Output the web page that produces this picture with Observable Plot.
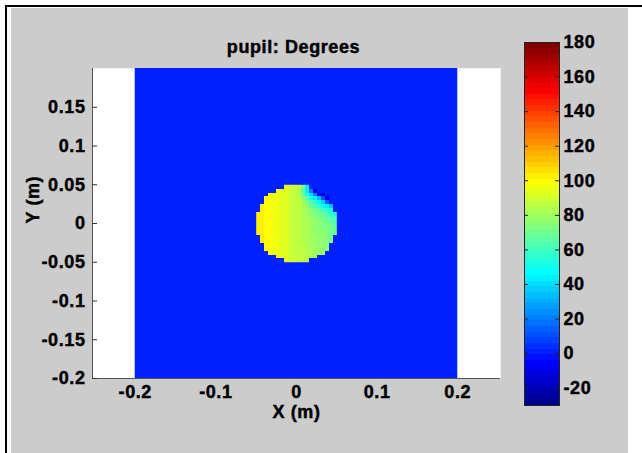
<!DOCTYPE html>
<html>
<head>
<meta charset="utf-8">
<script src="https://cdn.jsdelivr.net/npm/d3@7"></script>
<script src="https://cdn.jsdelivr.net/npm/@observablehq/plot@0.6"></script>
<style>
  html, body { margin: 0; padding: 0; background: #ffffff; }
  #wrap { position: relative; width: 642px; height: 453px; overflow: hidden; background: #ffffff; }
  #topline { position: absolute; left: 5px; top: 5px; width: 637px; height: 2px; background: #000; }
  #leftline { position: absolute; left: 5px; top: 5px; width: 2px; height: 448px; background: #000; }
  #panel { position: absolute; left: 11px; top: 8px; width: 617px; height: 445px; background: #cccccc; }
  #wrap svg { position: absolute; left: 0; top: 0; }
  #wrap svg text { stroke: #000; stroke-width: 0.45px; }
</style>
</head>
<body>
<div id="wrap">
  <div id="topline"></div>
  <div id="leftline"></div>
  <div id="panel"></div>
</div>
<script>
// ---- chart data ----
const title = "pupil: Degrees";
const xLabel = "X (m)";
const yLabel = "Y (m)";
const xDomain = [-0.253, 0.253];
const yDomain = [-0.2, 0.2];
const xTicks = [-0.2, -0.1, 0, 0.1, 0.2];
const yTicks = [-0.2, -0.15, -0.1, -0.05, 0, 0.05, 0.1, 0.15];
const colorLimits = [-30, 180];
const colorTicks = [-20, 0, 20, 40, 60, 80, 100, 120, 140, 160, 180];

// square field (value 0 degrees) and pupil grid
const fieldX = [-0.2, 0.2];
const fieldY = [-0.2, 0.2];
const fieldValue = 0;
const pupilExtent = [-0.05, 0.05];
const pupilSize = 20;
// each row (top to bottom): [first column, values across the pupil], degrees
const pupilRows = [
  [7, [93, 91, 89, 86, 72, 45]],
  [5, [96, 94, 92, 90, 88, 84, 68, 45, 22, -10]],
  [3, [99, 97, 96, 94, 92, 90, 88, 82, 70, 54, 40, 22, -5, -12]],
  [2, [101, 99, 97, 96, 94, 92, 90, 88, 85, 78, 66, 52, 45, 35, 10, -10]],
  [2, [101, 99, 97, 96, 94, 92, 90, 88, 85, 81, 72, 64, 56, 48, 38, 15]],
  [1, [103, 101, 99, 97, 96, 94, 92, 90, 88, 85, 82, 77, 70, 64, 58, 52, 45, 35]],
  [1, [103, 101, 99, 97, 96, 94, 92, 90, 88, 86, 83, 80, 76, 71, 66, 61, 56, 50]],
  [0, [104, 103, 101, 99, 97, 96, 94, 92, 90, 88, 86, 84, 81, 78, 74, 70, 66, 62, 58, 55]],
  [0, [104, 103, 101, 99, 97, 96, 94, 92, 90, 88, 86, 84, 82, 79, 76, 73, 70, 67, 64, 61]],
  [0, [104, 103, 101, 99, 97, 96, 94, 92, 90, 88, 86, 84, 82, 80, 77, 75, 72, 70, 67, 65]],
  [0, [104, 103, 101, 99, 97, 96, 94, 92, 90, 88, 86, 84, 82, 80, 78, 76, 74, 72, 69, 67]],
  [0, [104, 103, 101, 99, 97, 96, 94, 92, 90, 88, 86, 84, 82, 80, 78, 76, 74, 72, 70, 68]],
  [0, [104, 103, 101, 99, 97, 96, 94, 92, 90, 88, 86, 84, 82, 80, 78, 77, 75, 73, 71, 69]],
  [1, [103, 101, 99, 97, 96, 94, 92, 90, 88, 86, 84, 82, 80, 79, 77, 75, 73, 71]],
  [1, [103, 101, 99, 97, 96, 94, 92, 90, 88, 86, 84, 83, 81, 79, 78, 76, 74, 72]],
  [2, [101, 99, 97, 96, 94, 92, 90, 88, 86, 85, 83, 81, 80, 78, 76, 74]],
  [2, [101, 99, 97, 96, 94, 92, 90, 88, 87, 85, 83, 82, 80, 79, 77, 75]],
  [3, [99, 97, 96, 94, 92, 90, 88, 87, 85, 84, 82, 81, 79, 78]],
  [5, [96, 94, 92, 90, 89, 87, 86, 84, 83, 81]],
  [7, [92, 91, 89, 88, 86, 85]]
];

// flatten rows into a pupilSize x pupilSize grid (NaN outside the pupil)
const pupilValues = [];
for (const [start, vals] of pupilRows) {
  for (let i = 0; i < pupilSize; i++) {
    const k = i - start;
    pupilValues.push(k >= 0 && k < vals.length ? vals[k] : NaN);
  }
}

// MATLAB-style jet colormap with 64 levels
function jet(t) {
  const c = v => Math.round(255 * Math.max(0, Math.min(1, 1.5 - Math.abs(v))));
  return `rgb(${c(4 * t - 3)},${c(4 * t - 2)},${c(4 * t - 1)})`;
}
const nLevels = 64;
const jetColors = d3.range(nLevels).map(i => jet((i + 1) / nLevels));
const span = colorLimits[1] - colorLimits[0];
const thresholds = d3.range(1, nLevels).map(k => colorLimits[0] + k * span / nLevels);
const colorScale = {type: "threshold", domain: thresholds, range: jetColors};

const fmt = d => String(d);
const baseStyle = {
  background: "transparent",
  fontFamily: "'Liberation Sans', Arial, sans-serif",
  fontSize: "18px",
  fontWeight: "bold",
  letterSpacing: "0.6px",
  color: "#000"
};

const main = Plot.plot({
  width: 642,
  height: 453,
  marginLeft: 92,
  marginRight: 142,
  marginTop: 68,
  marginBottom: 75,
  x: {domain: xDomain},
  y: {domain: yDomain},
  color: colorScale,
  style: baseStyle,
  marks: [
    Plot.frame({fill: "#ffffff", stroke: "#f2f2f2"}),
    Plot.rect([fieldValue], {x1: fieldX[0], x2: fieldX[1], y1: fieldY[0], y2: fieldY[1], fill: d => d}),
    Plot.raster(pupilValues, {
      width: pupilSize, height: pupilSize,
      x1: pupilExtent[0], x2: pupilExtent[1],
      y1: pupilExtent[1], y2: pupilExtent[0],
      fill: d => d,
      imageRendering: "pixelated"
    }),
    Plot.ruleX([xDomain[0]], {stroke: "#555"}),
    Plot.ruleY([yDomain[0]], {stroke: "#555"}),
    Plot.tickY(yTicks, {y: d => d, stroke: "#333", insetRight: 403}),
    Plot.axisX({ticks: xTicks, tickSize: 0, tickPadding: 7, tickFormat: fmt, label: null}),
    Plot.axisY({ticks: yTicks, tickSize: 0, tickPadding: 7, tickFormat: fmt, label: null}),
    Plot.text([title], {text: d => d, frameAnchor: "top", lineAnchor: "middle", dy: -21, dx: -3}),
    Plot.text([xLabel], {text: d => d, frameAnchor: "bottom", lineAnchor: "middle", dy: 34}),
    Plot.text([yLabel], {text: d => d, frameAnchor: "left", lineAnchor: "middle", rotate: -90, dx: -59})
  ]
});

const colorbar = Plot.plot({
  width: 642,
  height: 453,
  marginLeft: 524,
  marginRight: 83,
  marginTop: 42,
  marginBottom: 48,
  x: {domain: [0, 1], axis: null},
  y: {domain: colorLimits},
  color: colorScale,
  style: baseStyle,
  marks: [
    Plot.raster({
      fill: (x, y) => y,
      x1: 0, x2: 1,
      y1: colorLimits[1], y2: colorLimits[0],
      width: 1, height: nLevels,
      imageRendering: "pixelated"
    }),
    Plot.frame({stroke: "#222"}),
    Plot.tickY(colorTicks, {y: d => d, stroke: "#222", insetRight: 31}),
    Plot.tickY(colorTicks, {y: d => d, stroke: "#222", insetLeft: 31}),
    Plot.axisY({anchor: "right", ticks: colorTicks, tickSize: 0, tickPadding: 4, tickFormat: fmt, label: null})
  ]
});

const wrap = document.getElementById("wrap");
wrap.appendChild(main);
wrap.appendChild(colorbar);
</script>
</body>
</html>
